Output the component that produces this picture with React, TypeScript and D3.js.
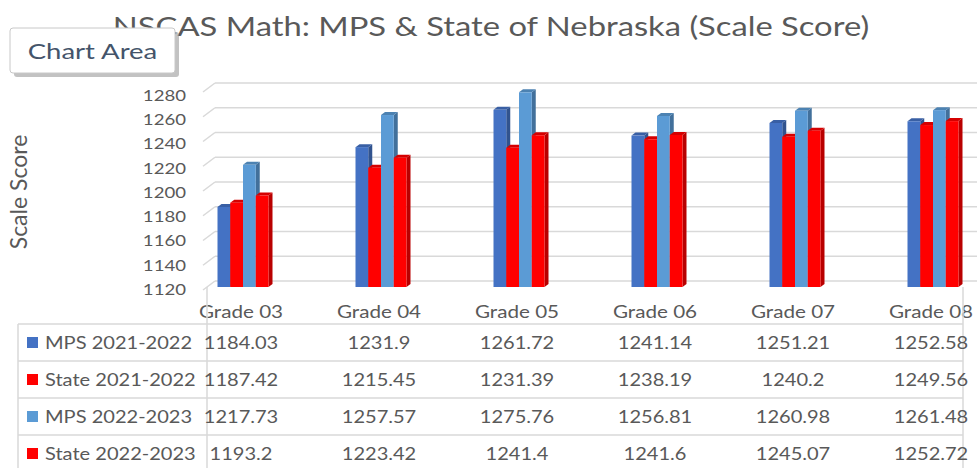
import React from "react";
import * as d3 from "d3";

const grades = ["Grade 03", "Grade 04", "Grade 05", "Grade 06", "Grade 07", "Grade 08"];
const seriesNames = ["MPS 2021-2022", "State 2021-2022", "MPS 2022-2023", "State 2022-2023"];
const seriesColors = ["#4472C4", "#FF0000", "#5B9BD5", "#FF0000"];
const mps2122 = [1184.03, 1231.9, 1261.72, 1241.14, 1251.21, 1252.58];
const state2122 = [1187.42, 1215.45, 1231.39, 1238.19, 1240.2, 1249.56];
const mps2223 = [1217.73, 1257.57, 1275.76, 1256.81, 1260.98, 1261.48];
const state2223 = [1193.2, 1223.42, 1241.4, 1241.6, 1245.07, 1252.72];
const valueLabels = [
  ["1184.03", "1231.9", "1261.72", "1241.14", "1251.21", "1252.58"],
  ["1187.42", "1215.45", "1231.39", "1238.19", "1240.2", "1249.56"],
  ["1217.73", "1257.57", "1275.76", "1256.81", "1260.98", "1261.48"],
  ["1193.2", "1223.42", "1241.4", "1241.6", "1245.07", "1252.72"],
];
const yTicks = [1120, 1140, 1160, 1180, 1200, 1220, 1240, 1260, 1280];
const seriesValues = [mps2122, state2122, mps2223, state2223];

const FONT = "Lato, 'Open Sans', sans-serif";
const TXT = "#595959";
const GRID = "#D9D9D9";
const SX = 1.2;

function T({ x, y, size, anchor = "middle", fill = TXT, children, sx = SX }: any) {
  return (
    <text
      transform={`translate(${x},${y}) scale(${sx},1)`}
      fontFamily={FONT}
      fontSize={size}
      fill={fill}
      textAnchor={anchor}
      dominantBaseline="central"
    >
      {children}
    </text>
  );
}

export default function App() {
  const W = 977, H = 468;
  const x = d3.scaleBand<string>().domain(grades).range([171, 999]);
  const xs = d3.scaleBand<string>().domain(seriesNames).range([0, 51]);
  const y = d3.scaleLinear().domain([1120, 1280]).range([287, 87]);
  const yBack = d3.scaleLinear().domain([1120, 1280]).range([281, 83]);
  const yLab = d3.scaleLinear().domain([1120, 1280]).range([289, 95]);
  const rows = d3.scaleBand<string>().domain(seriesNames).range([324, 472]);
  const dx = 4, dy = 3;
  const groupOffset = 46.5;
  const wallX = 215, frontX = 203;

  return (
    <svg width={W} height={H} style={{ position: "absolute", left: 0, top: 0, background: "#fff" }}>
      <rect x={0} y={0} width={W} height={H} fill="#fff" />
      {/* gridlines */}
      {yTicks.map((t) => (
        <g key={t}>
          <line x1={wallX} x2={W} y1={yBack(t)} y2={yBack(t)} stroke={GRID} strokeWidth={1.5} />
          <line x1={frontX} x2={wallX} y1={yBack(t) + 9} y2={yBack(t)} stroke={GRID} strokeWidth={1.5} />
          <T x={186} y={yLab(t)} size={15.5} anchor="end">{t}</T>
        </g>
      ))}
      {/* bars */}
      {grades.map((g, gi) => (
        <g key={g}>
          {seriesNames.map((s, si) => {
            const v = seriesValues[si][gi];
            const x0 = (x(g) as number) + groupOffset + (xs(s) as number);
            const w = xs.bandwidth();
            const top = y(v);
            const bot = y(1120);
            const c = d3.color(seriesColors[si]) as d3.RGBColor;
            const side = c.darker(0.9).toString();
            const cap = c.darker(0.5).toString();
            return (
              <g key={s}>
                <polygon
                  points={`${x0 + w},${top} ${x0 + w + dx},${top - dy} ${x0 + w + dx},${bot - dy} ${x0 + w},${bot}`}
                  fill={side}
                />
                <polygon
                  points={`${x0},${top} ${x0 + dx},${top - dy} ${x0 + w + dx},${top - dy} ${x0 + w},${top}`}
                  fill={cap}
                />
                <rect x={x0} y={top} width={w} height={bot - top} fill={seriesColors[si]} />
              </g>
            );
          })}
        </g>
      ))}
      {/* category labels */}
      {grades.map((g) => (
        <T key={g} x={(x(g) as number) + x.bandwidth() / 2 + 1} y={312} size={16.5} sx={1.25}>{g}</T>
      ))}
      {/* data table */}
      <g stroke={GRID} strokeWidth={1.5}>
        {seriesNames.map((s) => (
          <line key={s} x1={18} x2={963} y1={rows(s)} y2={rows(s)} />
        ))}
        <line x1={18} x2={18} y1={324} y2={H} />
        <line x1={207} x2={207} y1={287} y2={H} />
        <line x1={963} x2={963} y1={287} y2={H} />
      </g>
      {seriesNames.map((s, si) => {
        const cy = (rows(s) as number) + rows.bandwidth() / 2;
        return (
          <g key={s}>
            <rect x={27} y={cy - 5.5} width={11} height={11} fill={seriesColors[si]} />
            <T x={45} y={cy} size={17} anchor="start" sx={1.18}>{s}</T>
            {grades.map((g, gi) => (
              <T key={g} x={(x(g) as number) + x.bandwidth() / 2 + 1} y={cy} size={17} sx={1.18}>
                {valueLabels[si][gi]}
              </T>
            ))}
          </g>
        );
      })}
      {/* axis title */}
      <text
        transform="translate(18,192) rotate(-90)"
        fontFamily={FONT}
        fontSize={23}
        fill={TXT}
        textAnchor="middle"
        dominantBaseline="central"
      >
        Scale Score
      </text>
      {/* title */}
      <T x={491} y={26} size={26} sx={1.26}>NSCAS Math: MPS &amp; State of Nebraska (Scale Score)</T>
      {/* Chart Area tooltip */}
      <rect x={14} y={32} width={165} height={45} rx={3} fill="#9a9a9a" opacity={0.6} />
      <rect x={10} y={28} width={165} height={45} rx={3} fill="#fff" stroke="#C8C8C8" strokeWidth={1} />
      <T x={92.5} y={50} size={22} fill="#44546A" sx={1.25}>Chart Area</T>
    </svg>
  );
}
